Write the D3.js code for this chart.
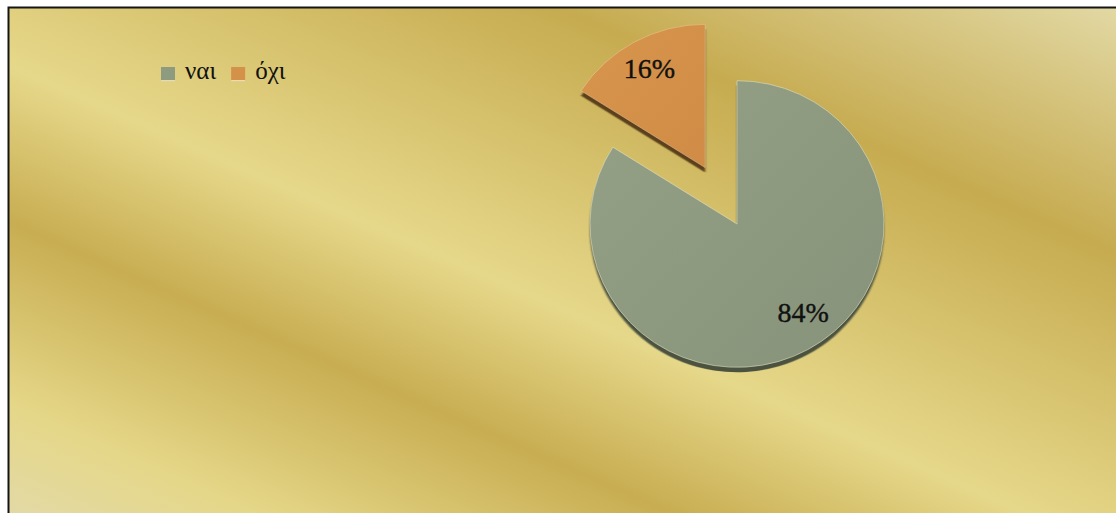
<!DOCTYPE html>
<html>
<head>
<meta charset="utf-8">
<script src="https://cdn.jsdelivr.net/npm/d3@7"></script>
<style>
  html, body { margin: 0; padding: 0; background: #ffffff; }
  svg { display: block; }
</style>
</head>
<body>
<svg id="chart" width="1116" height="513"></svg>
<script>
// ---- data ----
const categories = ["ναι", "όχι"];
const values = [84, 16];
const labels = ["84%", "16%"];
const exploded = [0, 1];

// ---- styles ----
const sliceTop = ["url(#gGreen)", "url(#gOrange)"];
const sliceSide = ["#4c5240", "#5c401b"];
const legendColors = ["#8e9b7e", "#d4914a"];
const serifFont = "'Liberation Serif', 'Times New Roman', 'DejaVu Serif', serif";

const W = 1116, H = 513;
const svg = d3.select("#chart");
const defs = svg.append("defs");

// background gold gradient (diagonal bands)
const bg = defs.append("linearGradient").attr("id", "bgGold")
  .attr("gradientUnits", "userSpaceOnUse")
  .attr("x1", 191.7).attr("y1", -435.7).attr("x2", -206.4).attr("y2", 469.2);
[[0, "#e4dcaf"], [0.036, "#e2d8a3"], [0.261, "#c6ab50"], [0.539, "#e6d88a"],
 [0.683, "#c8ad52"], [0.852, "#e5d788"], [0.956, "#e3d9a6"], [1, "#e2d9aa"]]
  .forEach(([o, c]) => bg.append("stop").attr("offset", o).attr("stop-color", c));

const gg = defs.append("linearGradient").attr("id", "gGreen")
  .attr("x1", 0).attr("y1", 0).attr("x2", 1).attr("y2", 1);
gg.append("stop").attr("offset", 0).attr("stop-color", "#94a186");
gg.append("stop").attr("offset", 1).attr("stop-color", "#86937a");
const go = defs.append("linearGradient").attr("id", "gOrange")
  .attr("x1", 0).attr("y1", 0).attr("x2", 1).attr("y2", 1);
go.append("stop").attr("offset", 0).attr("stop-color", "#d8954c");
go.append("stop").attr("offset", 1).attr("stop-color", "#d08c46");

const blur = defs.append("filter").attr("id", "soft").attr("x", "-5%").attr("y", "-5%")
  .attr("width", "110%").attr("height", "110%");
blur.append("feGaussianBlur").attr("stdDeviation", 0.8);

// frame
svg.append("rect")
  .attr("x", 8.5).attr("y", 7.5)
  .attr("width", W + 10).attr("height", H + 10)
  .attr("fill", "url(#bgGold)")
  .attr("stroke", "#151515").attr("stroke-width", 2);

// ---- pie ----
const cx = 737, cy = 224, R = 147, tilt = 0.975, explode = 66, depth = [5, 5];
const pie = d3.pie().sort(null).value(d => d)(values);
const arc = d3.arc().innerRadius(0).outerRadius(R);

const pieG = svg.append("g").attr("transform", `translate(${cx},${cy}) scale(1,${tilt})`);

pie.forEach((p, i) => {
  const mid = (p.startAngle + p.endAngle) / 2;
  const off = exploded[i] ? explode : 0;
  const dx = off * Math.sin(mid), dy = -off * Math.cos(mid);
  const g = pieG.append("g").attr("transform", `translate(${dx},${dy})`);
  g.append("path").attr("d", arc(p))
    .attr("transform", `translate(0,${depth[i]})`)
    .attr("fill", sliceSide[i])
    .attr("filter", "url(#soft)");
  g.append("path").attr("d", arc(p))
    .attr("fill", sliceTop[i])
    .attr("stroke", i === 0 ? "#e6e4c4" : "#e8c89a")
    .attr("stroke-width", 0.8)
    .attr("stroke-opacity", 0.7);
});

// labels
const labelR = [104, 116];
const labelNudge = [16, 0];
pie.forEach((p, i) => {
  const mid = (p.startAngle + p.endAngle) / 2;
  const off = exploded[i] ? explode : 0;
  const r = off + labelR[i];
  const x = cx + r * Math.sin(mid) + labelNudge[i];
  const y = cy - r * Math.cos(mid) * tilt;
  svg.append("text")
    .attr("x", x).attr("y", y)
    .attr("text-anchor", "middle")
    .attr("dominant-baseline", "central")
    .attr("font-family", serifFont)
    .attr("font-size", 28)
    .attr("fill", "#111")
    .attr("stroke", "#111").attr("stroke-width", 0.4)
    .text(labels[i]);
});

// ---- legend ----
const legend = svg.append("g").attr("transform", "translate(161,67)");
let lx = 0;
categories.forEach((c, i) => {
  legend.append("rect").attr("x", lx).attr("y", 0).attr("width", 14).attr("height", 14)
    .attr("fill", legendColors[i]);
  legend.append("rect").attr("x", lx).attr("y", 13).attr("width", 14).attr("height", 1.2)
    .attr("fill", "#f2ecc8").attr("opacity", 0.8);
  const t = legend.append("text").attr("x", lx + 24).attr("y", 12)
    .attr("font-family", serifFont)
    .attr("font-size", 25)
    .attr("fill", "#111")
    .text(c);
  lx += 24 + t.node().getComputedTextLength() + 15;
});
</script>
</body>
</html>
